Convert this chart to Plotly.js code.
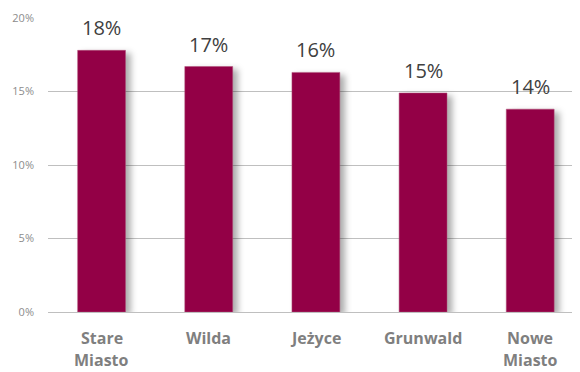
<!DOCTYPE html>
<html>
<head>
<meta charset="utf-8">
<script src="https://cdn.plot.ly/plotly-3.0.1.min.js"></script>
<style>
html,body{margin:0;padding:0;background:#fff;}
#chart{width:580px;height:372px;}
g.barlayer{filter:drop-shadow(5px 3px 3px rgba(0,0,0,0.32));}
</style>
</head>
<body>
<div id="chart"></div>
<script>
const categories = ["Stare Miasto", "Wilda", "Jeżyce", "Grunwald", "Nowe Miasto"];
const categoryLines = [["Stare", "Miasto"], ["Wilda"], ["Jeżyce"], ["Grunwald"], ["Nowe", "Miasto"]];
const values = [0.178, 0.167, 0.163, 0.149, 0.138];
const valueLabels = ["18%", "17%", "16%", "15%", "14%"];
const yTicks = [0, 0.05, 0.10, 0.15, 0.20];
const yTickLabels = ["0%", "5%", "10%", "15%", "20%"];

const trace = {
  type: "bar",
  x: categories,
  y: values,
  width: 0.447,
  marker: {color: "#930046", line: {color: "#b0507a", width: 0.5}},
  hoverinfo: "none"
};

const annotations = categories.map((c, i) => ({
  x: c, y: values[i], xref: "x", yref: "y",
  text: valueLabels[i], showarrow: false,
  yanchor: "bottom", yshift: 7,
  font: {family: "Open Sans, sans-serif", size: 20, color: "#404040"}
}));

categoryLines.forEach((lines, i) => {
  lines.forEach((ln, j) => {
    annotations.push({
      x: categories[i], y: 0, xref: "x", yref: "paper",
      text: "<b>" + ln + "</b>", showarrow: false, borderpad: 0,
      yanchor: "middle", yshift: -26 - 22 * j,
      font: {family: "Open Sans, sans-serif", size: 16, color: "#7f7f7f"}
    });
  });
});

const layout = {
  width: 580, height: 372,
  margin: {l: 48, r: 8, t: 18, b: 60, pad: 0},
  paper_bgcolor: "#fff", plot_bgcolor: "#fff",
  showlegend: false,
  xaxis: {
    type: "category",
    range: [-0.5, 4.39],
    showgrid: false, zeroline: false, showline: false,
    ticks: "", showticklabels: false
  },
  yaxis: {
    range: [0, 0.2],
    tickvals: yTicks, ticktext: yTickLabels,
    showgrid: true, gridcolor: "#bfbfbf", gridwidth: 1,
    zeroline: true, zerolinecolor: "#bfbfbf", zerolinewidth: 1,
    showline: false, ticks: "", ticklabelstandoff: 13,
    tickfont: {family: "Open Sans, sans-serif", size: 11, color: "#8c8c8c"}
  },
  annotations: annotations
};

Plotly.newPlot("chart", [trace], layout, {displayModeBar: false, staticPlot: true});
</script>
</body>
</html>
